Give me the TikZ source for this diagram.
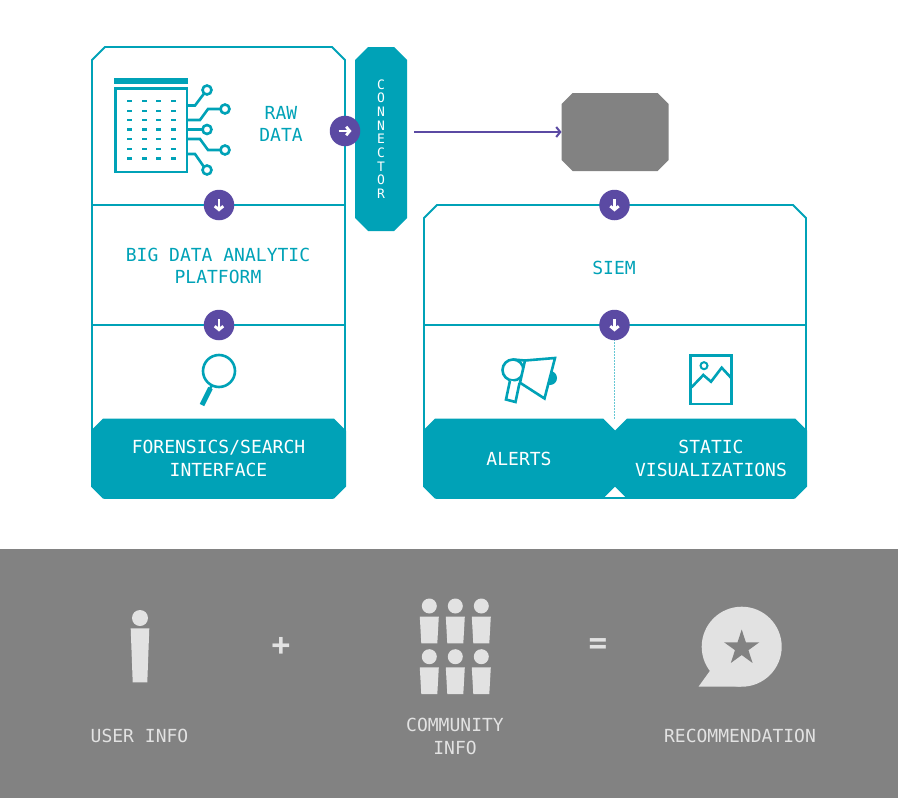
\documentclass[tikz,border=0pt]{standalone}
\usepackage{fontspec}
\setmonofont{DejaVu Sans Mono}
\definecolor{tealbox}{HTML}{00A2B7}
\definecolor{violet}{HTML}{5B4AA3}
\definecolor{band}{HTML}{828282}
\definecolor{light}{HTML}{E2E2E2}
\usetikzlibrary{arrows.meta,shapes.geometric,backgrounds}
\tikzset{
  label18/.style={font=\ttfamily\fontsize{18}{22.5}\selectfont,align=center,inner sep=0pt,outer sep=0pt},
  tealtext/.style={label18,text=tealbox},
  whitetext/.style={label18,text=white},
  lighttext/.style={label18,text=light},
  outline/.style={draw=tealbox,line width=1.8pt},
  divider/.style={tealbox,line width=1.8pt},
  icon/.style={draw=tealbox,line width=2.6pt},
  badge/.style={circle,fill=violet,minimum size=30.5pt,inner sep=0pt,outer sep=0pt},
  badgedown/.style={badge,path picture={
    \draw[white,line width=2.8pt,-{Straight Barb[length=3.5pt,width=8.5pt]}]
      ([yshift=6pt]path picture bounding box.center) -- ([yshift=-6.5pt]path picture bounding box.center);}},
  badgeright/.style={badge,path picture={
    \draw[white,line width=2.8pt,-{Straight Barb[length=3.5pt,width=8.5pt]}]
      ([xshift=-6.5pt]path picture bounding box.center) -- ([xshift=6.5pt]path picture bounding box.center);}},
}
% outline with cut corners round a node
\newcommand{\bevel}[3][]{\path[#1]
  ([xshift=#3]#2.north west) -- ([xshift=-#3]#2.north east) -- ([yshift=-#3]#2.north east)
  -- ([yshift=#3]#2.south east) -- ([xshift=-#3]#2.south east) -- ([xshift=#3]#2.south west)
  -- ([yshift=#3]#2.south west) -- ([yshift=-#3]#2.north west) -- cycle;}
\begin{document}
\begin{tikzpicture}[x=1pt,y=-1pt]
    \useasboundingbox (0,0) rectangle (898,798);

    % Panels and filled boxes
    \node[inner sep=0pt,outer sep=0pt,minimum width=253pt,minimum height=451pt] (platform) at (218.5,272.5) {};
    \node[inner sep=0pt,outer sep=0pt,minimum width=382pt,minimum height=293pt] (siem) at (615,351.5) {};
    \node[whitetext,minimum width=255pt,minimum height=80pt] (forensics) at (218.5,458.5)
      {FORENSICS/SEARCH\\INTERFACE};
    \node[whitetext,minimum width=192pt,minimum height=80pt] (alerts) at (519,458.5) {ALERTS};
    \node[whitetext,minimum width=192pt,minimum height=80pt] (static) at (711,458.5)
      {STATIC\\VISUALIZATIONS};
    \node[color=white,font=\ttfamily\fontsize{13}{13.7}\selectfont,align=center,inner sep=0pt,
      outer sep=0pt,minimum width=52pt,minimum height=184pt] (connector) at (381,139)
      {C\\O\\N\\N\\E\\C\\T\\O\\R};
    \node[inner sep=0pt,outer sep=0pt,minimum width=107pt,minimum height=78pt] (source) at (615,132) {};

    % Badges
    \node[badgeright] (rawout) at (345,131) {};
    \node[badgedown] (rawdown) at (219,205) {};
    \node[badgedown] (platformdown) at (219,325) {};
    \node[badgedown] (sourcedown) at (614.5,205) {};
    \node[badgedown] (siemdown) at (614.5,325) {};

    \begin{pgfonlayer}{background}
      \fill[white] (0,0) rectangle (898,798);
      \fill[band] (0,549) rectangle (898,798);
      \bevel[outline,fill=white]{platform}{13pt}
      \bevel[outline,fill=white]{siem}{13pt}
      \draw[divider] (platform.west |- rawdown) -- (platform.east |- rawdown);
      \draw[divider] (platform.west |- platformdown) -- (platform.east |- platformdown);
      \draw[divider] (siem.west |- siemdown) -- (siem.east |- siemdown);
      \draw[tealbox!60,line width=0.5pt,densely dotted] (siemdown) -- (siemdown |- alerts.north);
      \bevel[fill=tealbox]{forensics}{12pt}
      \bevel[fill=tealbox]{alerts}{12pt}
      \bevel[fill=tealbox]{static}{12pt}
      \bevel[fill=tealbox]{connector}{13pt}
      \bevel[fill=band]{source}{11pt}
    \end{pgfonlayer}

    % Flow to the grey box
    \draw[violet,line width=2pt,shorten <=7pt,-{Straight Barb[length=4pt,width=10pt]}]
      (connector.east |- source.west) -- (source.west);

    % Labels
    \node[tealtext] (rawdata) at (281,124) {RAW\\DATA};
    \node[tealtext] (platformlabel) at (218,266) {BIG DATA ANALYTIC\\PLATFORM};
    \node[tealtext] (siemlabel) at (614,268) {SIEM};

    % Table icon
    \fill[tealbox] (114,78) rectangle (188,83.5);
    \draw[icon] (115.5,88.5) rectangle (187,172);
    \foreach \y in {101,111,120,129.5,139,149,158.5}
      \foreach \x in {129,144,158,173}
        \fill[tealbox] (\x-2.5,\y-1.3) rectangle (\x+2.5,\y+1.3);
    \draw[icon] (187,105.5) -- (195,105.5) -- (203.7,94);
    \draw[icon] (187,120) -- (200,120) -- (208,109) -- (220.5,109);
    \draw[icon] (187,129.5) -- (202.5,129.5);
    \draw[icon] (187,139) -- (200,139) -- (208,150) -- (220.5,150);
    \draw[icon] (187,154) -- (195,154) -- (203.7,166.5);
    \draw[icon] (207,90) circle (4.5pt);
    \draw[icon] (225,109) circle (4.5pt);
    \draw[icon] (207,129.5) circle (4.5pt);
    \draw[icon] (225,150) circle (4.5pt);
    \draw[icon] (207,170) circle (4.5pt);

    % Magnifier
    \draw[icon] (219,371) circle (16pt);
    \draw[tealbox,line width=2.5pt] (212,385) -- (210,389);
    \draw[tealbox,line width=5pt] (210.5,388) -- (202,405);

    % Megaphone
    \fill[tealbox] (550,378) circle (7pt);
    \draw[icon] (513,370) circle (10.5pt);
    \draw[icon,fill=white,line join=miter] (525,360.5) -- (555,358) -- (544.5,398.5) -- (520,382.7) -- cycle;
    \draw[icon] (513,359.5) -- (525,360.5);
    \draw[icon,fill=white] (510,380.5) -- (506,399.5) -- (515.5,402) -- (519.5,383);

    % Picture icon
    \draw[icon] (690.5,355.5) rectangle (731.5,404);
    \draw[icon,line width=2pt] (704,365.7) circle (3.5pt);
    \draw[icon] (691.5,387.3) -- (703.3,375) -- (711,381.7) -- (721.7,367.7) -- (731.5,378.3);

    % User
    \fill[light] (140,618) circle (8pt);
    \fill[light] (130.7,628.3) -- (149.3,628.3) -- (147.3,682.3) -- (132.7,682.3) -- cycle;
    \node[lighttext] (userinfo) at (139.5,735.5) {USER INFO};

    \node[text=light,font=\ttfamily\bfseries\fontsize{31}{31}\selectfont,inner sep=0pt] (plus) at (281,646.5) {+};
    \node[text=light,font=\ttfamily\bfseries\fontsize{31}{31}\selectfont,inner sep=0pt] (equals) at (598,646.5) {=};

    % Community
    \foreach \x in {429.3,455.3,481.3}
      \foreach \y in {606,656.7} {
        \fill[light] (\x,\y) circle (7.5pt);
        \fill[light] (\x-9.5,\y+10.7) -- (\x+9.5,\y+10.7) -- (\x+8,\y+37.4) -- (\x-8,\y+37.4) -- cycle;
      }
    \node[lighttext] (communityinfo) at (455,736.5) {COMMUNITY\\INFO};

    % Recommendation
    \fill[light] (741.7,646.7) circle (40pt);
    \fill[light] (698.5,686.7) -- (741.7,686.7) -- (712,668) -- cycle;
    \node[star,star points=5,star point ratio=2.618,fill=band,minimum size=37pt,inner sep=0pt] (starmark) at (741.7,648) {};
    \node[lighttext] (recommendation) at (740,735.5) {RECOMMENDATION};
  \end{tikzpicture}
\end{document}
